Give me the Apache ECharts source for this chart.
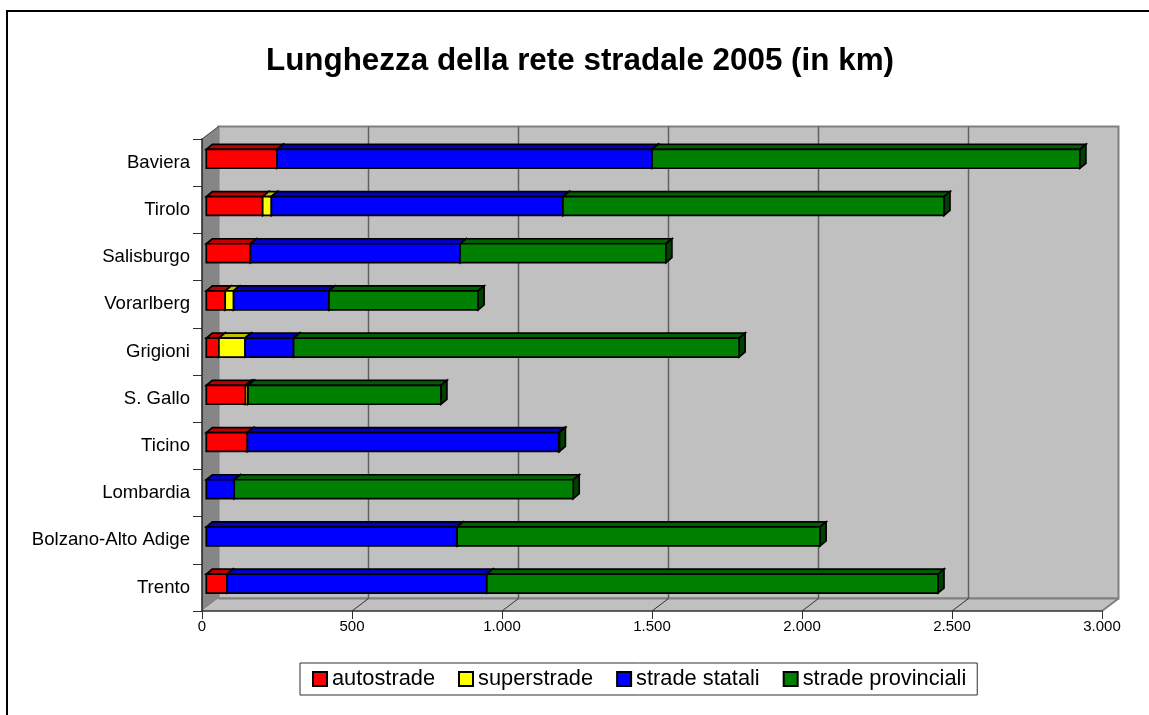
<!DOCTYPE html>
<html>
<head>
<meta charset="utf-8">
<title>Lunghezza della rete stradale 2005</title>
<script src="https://cdn.jsdelivr.net/npm/echarts@6/dist/echarts.min.js"></script>
<style>
  html, body { margin: 0; padding: 0; background: #fff; }
  #chart { width: 1149px; height: 715px; }
</style>
</head>
<body>
<div id="chart"></div>
<script>
const regions = ["Baviera", "Tirolo", "Salisburgo", "Vorarlberg", "Grigioni", "S. Gallo", "Ticino", "Lombardia", "Bolzano-Alto Adige", "Trento"];
const autostrade = [236, 188, 147, 63, 42, 131, 137, 0, 0, 69];
const superstrade = [0, 29, 0, 28, 87, 8, 0, 0, 0, 0];
const stradeStatali = [1250, 972, 699, 318, 162, 0, 1038, 93, 836, 866];
const stradeProvinciali = [1426, 1270, 686, 497, 1485, 643, 2, 1130, 1210, 1504];
const xTicks = [0, 500, 1000, 1500, 2000, 2500, 3000];

const FONT = "Liberation Sans";
// 3D look of the old spreadsheet chart: box depth and bar depth in pixels
const WALL_DX = 16.5;
const WALL_DY = 12.5;
const BAR_DX = 6;
const BAR_DY = 5;
const BAR_SHIFT_X = 4.3;
const BAR_SHIFT_Y = 3.8;
const BAR_RATIO = 0.4;

function formatThousands(v) {
  return String(v).replace(/\B(?=(\d{3})+$)/g, ".");
}

function line(x1, y1, x2, y2, stroke, lineWidth) {
  return { type: "line", shape: { x1, y1, x2, y2 }, style: { stroke, lineWidth, fill: null } };
}

function poly(points, fill, stroke, lineWidth) {
  return { type: "polygon", shape: { points }, style: { fill, stroke, lineWidth, lineJoin: "miter" } };
}

function renderWalls(params, api) {
  const c = params.coordSys;
  const left = c.x;
  const right = c.x + c.width;
  const top = c.y;
  const bottom = c.y + c.height;
  const children = [
    poly([[left + WALL_DX, top - WALL_DY], [right + WALL_DX, top - WALL_DY], [right + WALL_DX, bottom - WALL_DY], [left + WALL_DX, bottom - WALL_DY]], "#c0c0c0", "#808080", 2),
    poly([[left, top], [left + WALL_DX, top - WALL_DY], [left + WALL_DX, bottom - WALL_DY], [left, bottom]], "#868686", null, 0),
    poly([[left, bottom], [left + WALL_DX, bottom - WALL_DY], [right + WALL_DX, bottom - WALL_DY], [right, bottom]], "#c0c0c0", null, 0),
    line(left + WALL_DX, bottom - WALL_DY, right + WALL_DX, bottom - WALL_DY, "#808080", 2),
    line(right, bottom, right + WALL_DX, bottom - WALL_DY, "#808080", 2),
    line(left, top, left + WALL_DX, top - WALL_DY, "#404040", 1)
  ];
  for (const v of xTicks) {
    const x = api.coord([v, 0])[0];
    if (v > 0 && v < 3000) {
      children.push(line(x + WALL_DX, top - WALL_DY, x + WALL_DX, bottom - WALL_DY, "#606060", 1.5));
      children.push(line(x, bottom, x + WALL_DX, bottom - WALL_DY, "#303030", 1));
    }
  }
  return { type: "group", children };
}

function shade(color, k) {
  const n = parseInt(color.slice(1), 16);
  const r = Math.round(((n >> 16) & 255) * k);
  const g = Math.round(((n >> 8) & 255) * k);
  const b = Math.round((n & 255) * k);
  return `rgb(${r},${g},${b})`;
}

function renderBar(color) {
  return (params, api) => {
    const from = api.value(0);
    const to = api.value(1);
    if (to <= from) return null;
    const band = api.size([0, 1])[1];
    const h = band * BAR_RATIO;
    const start = api.coord([from, api.value(2)]);
    const end = api.coord([to, api.value(2)]);
    const x0 = start[0] + BAR_SHIFT_X;
    const x1 = end[0] + BAR_SHIFT_X;
    const y0 = start[1] - BAR_SHIFT_Y - h / 2;
    const y1 = y0 + h;
    const edge = "#000";
    return {
      type: "group",
      children: [
        poly([[x0, y0], [x0 + BAR_DX, y0 - BAR_DY], [x1 + BAR_DX, y0 - BAR_DY], [x1, y0]], shade(color, 0.75), edge, 1.7),
        poly([[x1, y0], [x1 + BAR_DX, y0 - BAR_DY], [x1 + BAR_DX, y1 - BAR_DY], [x1, y1]], shade(color, 0.5), edge, 1.7),
        poly([[x0, y0], [x1, y0], [x1, y1], [x0, y1]], color, edge, 1.7)
      ]
    };
  };
}

// stacked segments: [from, to, category index]
function stackData(layers, layerIdx) {
  return regions.map((_, i) => {
    let from = 0;
    for (let k = 0; k < layerIdx; k += 1) from += layers[k][i];
    return [from, from + layers[layerIdx][i], i];
  });
}

const layers = [autostrade, superstrade, stradeStatali, stradeProvinciali];
const layerNames = ["autostrade", "superstrade", "strade statali", "strade provinciali"];
const layerColors = ["#ff0000", "#ffff00", "#0000ff", "#008000"];

const barSeries = layers.map((_, idx) => ({
  type: "custom",
  name: layerNames[idx],
  z: 3 + idx,
  clip: false,
  renderItem: renderBar(layerColors[idx]),
  encode: { x: [0, 1], y: 2 },
  itemStyle: { color: layerColors[idx], borderColor: "#000", borderWidth: 1.5 },
  data: stackData(layers, idx)
}));

const option = {
  animation: false,
  backgroundColor: "#ffffff",
  textStyle: { fontFamily: FONT, color: "#000" },
  title: {
    text: "Lunghezza della rete stradale 2005 (in km)",
    left: 575,
    top: 41,
    textAlign: "center",
    textStyle: { fontFamily: FONT, fontSize: 31.4, fontWeight: "bold", color: "#000" }
  },
  grid: { left: 202, top: 139, width: 900, height: 472, containLabel: false },
  xAxis: {
    type: "value",
    min: 0,
    max: 3000,
    interval: 500,
    z: 6,
    splitLine: { show: false },
    axisLine: { show: true, onZero: false, lineStyle: { color: "#303030", width: 1.5 } },
    axisTick: { show: true, length: 8, lineStyle: { color: "#303030", width: 1 } },
    axisLabel: { fontFamily: FONT, fontSize: 15, color: "#000", margin: 8, formatter: formatThousands, hideOverlap: false, showMinLabel: true, showMaxLabel: true }
  },
  yAxis: {
    type: "category",
    data: regions,
    inverse: true,
    z: 6,
    axisLine: { show: true, lineStyle: { color: "#202020", width: 1.5 } },
    axisTick: { show: true, length: 9, lineStyle: { color: "#303030", width: 1 } },
    axisLabel: { fontFamily: FONT, fontSize: 18.6, color: "#000", margin: 12, interval: 0 }
  },
  legend: {
    data: layerNames,
    left: 300,
    top: 663,
    icon: "rect",
    itemWidth: 14,
    itemHeight: 14,
    itemGap: 23,
    padding: [5, 11, 5, 12],
    backgroundColor: "#fff",
    borderColor: "#303030",
    borderWidth: 1,
    selectedMode: false,
    textStyle: { fontFamily: FONT, fontSize: 21.8, color: "#000" }
  },
  graphic: [
    { type: "line", silent: true, shape: { x1: 7, y1: 11, x2: 1149, y2: 11 }, style: { stroke: "#000", lineWidth: 2 } },
    { type: "line", silent: true, shape: { x1: 7, y1: 10, x2: 7, y2: 715 }, style: { stroke: "#000", lineWidth: 2 } }
  ],
  series: [
    { type: "custom", name: "pareti", z: 1, silent: true, clip: false, renderItem: renderWalls, encode: { x: 0, y: 1 }, data: [[0, 0]] },
    ...barSeries
  ]
};

const chart = echarts.init(document.getElementById("chart"), null, { renderer: "canvas" });
chart.setOption(option);
</script>
</body>
</html>
